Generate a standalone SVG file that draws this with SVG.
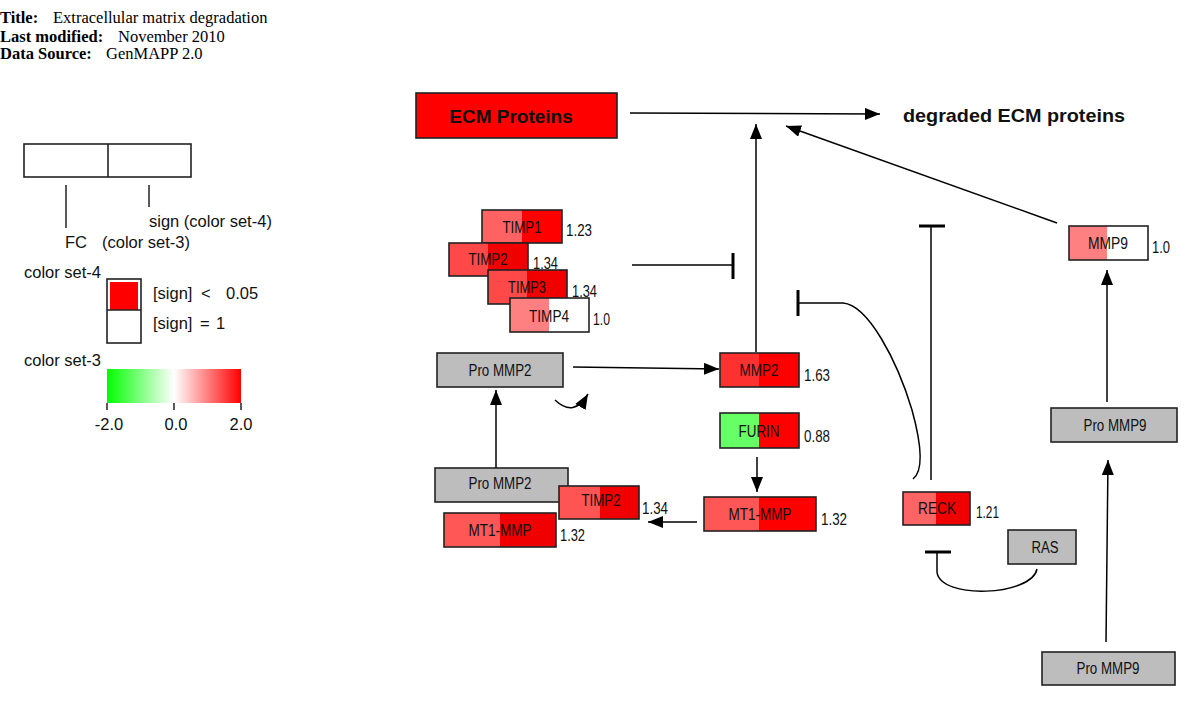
<svg xmlns="http://www.w3.org/2000/svg" width="1200" height="708" viewBox="0 0 1200 708">
<style>
.hdr{font-family:"Liberation Serif","Times New Roman",serif;font-size:16.5px;fill:#000}
.b{font-weight:bold}
.t{font-family:"Liberation Sans",Arial,sans-serif;font-size:16.5px;fill:#111}
.lg{font-family:"Liberation Sans",Arial,sans-serif;font-size:16.5px;fill:#111;text-anchor:middle}
.lbl{font-family:"Liberation Sans",Arial,sans-serif;font-size:16px;fill:#111;text-anchor:middle}
.num{font-family:"Liberation Sans",Arial,sans-serif;font-size:16px;fill:#111}
.big{font-family:"Liberation Sans",Arial,sans-serif;font-size:19px;font-weight:bold;fill:#111}
.box{stroke:#222;stroke-width:1.6;fill:none}
.grey{fill:#bdbdbd;stroke:#222;stroke-width:1.6}
.ln{stroke:#000;stroke-width:1.5;fill:none}
</style>
<defs>
<marker id="arr" markerUnits="userSpaceOnUse" markerWidth="16" markerHeight="13" refX="15" refY="6" orient="auto">
<path d="M0,0 L15,6 L0,12 z" fill="#000"/>
</marker>
<linearGradient id="grad" x1="0" y1="0" x2="1" y2="0">
<stop offset="0" stop-color="#00ff00"/>
<stop offset="0.5" stop-color="#ffffff"/>
<stop offset="1" stop-color="#ff0000"/>
</linearGradient>
</defs>
<rect width="1200" height="708" fill="#fff"/>

<g id="header">
<text class="hdr" x="0" y="23"><tspan class="b">Title:</tspan><tspan x="53">Extracellular matrix degradation</tspan></text>
<text class="hdr" x="0" y="42"><tspan class="b">Last modified:</tspan><tspan x="118">November 2010</tspan></text>
<text class="hdr" x="0" y="59"><tspan class="b">Data Source:</tspan><tspan x="106">GenMAPP 2.0</tspan></text>
</g>

<g id="legend">
<rect x="24" y="144" width="167" height="33" fill="#fff" stroke="#222" stroke-width="1.6"/>
<line x1="108" y1="144" x2="108" y2="177" stroke="#222" stroke-width="1.6"/>
<line x1="66" y1="185" x2="66" y2="228" stroke="#222" stroke-width="1.5"/>
<line x1="149" y1="185" x2="149" y2="207" stroke="#222" stroke-width="1.5"/>
<text class="t" x="149" y="227">sign (color set-4)</text>
<text class="t" x="65" y="248">FC</text>
<text class="t" x="102" y="248">(color set-3)</text>
<text class="t" x="24" y="278">color set-4</text>
<rect x="107" y="279" width="34" height="64" fill="#fff" stroke="#222" stroke-width="1.6"/>
<rect x="110" y="282" width="28" height="28" fill="#ff0000"/>
<line x1="107" y1="310" x2="141" y2="310" stroke="#222" stroke-width="1.6"/>
<text class="t" x="153" y="299">[sign]<tspan x="201">&lt;</tspan><tspan x="226">0.05</tspan></text>
<text class="t" x="153" y="329">[sign]<tspan x="200">=</tspan><tspan x="216">1</tspan></text>
<text class="t" x="24" y="366">color set-3</text>
<rect x="107" y="369" width="134" height="34" fill="url(#grad)"/>
<line x1="107" y1="403" x2="107" y2="410" stroke="#222" stroke-width="1.5"/>
<line x1="174" y1="403" x2="174" y2="410" stroke="#222" stroke-width="1.5"/>
<line x1="241" y1="403" x2="241" y2="410" stroke="#222" stroke-width="1.5"/>
<text class="lg" x="109" y="430">-2.0</text>
<text class="lg" x="176" y="430">0.0</text>
<text class="lg" x="241" y="430">2.0</text>
</g>

<g id="connectors">
<line class="ln" x1="630" y1="113" x2="880" y2="114" marker-end="url(#arr)"/>
<line class="ln" x1="756" y1="352" x2="756" y2="124" marker-end="url(#arr)"/>
<line class="ln" x1="1057" y1="223" x2="786" y2="126" marker-end="url(#arr)"/>
<line class="ln" x1="632" y1="265" x2="733" y2="265"/>
<line x1="733" y1="253" x2="733" y2="279" stroke="#000" stroke-width="3"/>
<line class="ln" x1="573" y1="367" x2="719" y2="369" marker-end="url(#arr)"/>
<path class="ln" d="M555 400 Q574 418 588 394" marker-end="url(#arr)"/>
<line class="ln" x1="496" y1="468" x2="496" y2="390" marker-end="url(#arr)"/>
<line class="ln" x1="757" y1="457" x2="757" y2="492" marker-end="url(#arr)"/>
<line class="ln" x1="697" y1="522" x2="648" y2="522" marker-end="url(#arr)"/>
<line class="ln" x1="931" y1="226" x2="931" y2="480"/>
<line x1="919" y1="226" x2="945" y2="226" stroke="#000" stroke-width="3"/>
<path class="ln" d="M798 303 L843 303 C868 305 897 360 912 410 C923 450 922 472 913 479"/>
<line x1="798" y1="290" x2="798" y2="316" stroke="#000" stroke-width="3"/>
<path class="ln" d="M1037 569 C1032 596 940 600 937 572 L937 552"/>
<line x1="925" y1="552" x2="951" y2="552" stroke="#000" stroke-width="3"/>
<line class="ln" x1="1107" y1="402" x2="1107" y2="270" marker-end="url(#arr)"/>
<line class="ln" x1="1106" y1="642" x2="1108" y2="460" marker-end="url(#arr)"/>
</g>

<g id="ecm-proteins">
<rect x="416" y="93" width="201" height="45" fill="#ff0000" stroke="#222" stroke-width="1.6"/>
<text class="big" x="511" y="123" text-anchor="middle">ECM Proteins</text>
</g>
<g id="degraded-ecm">
<text class="big" x="903" y="122" textLength="222" lengthAdjust="spacingAndGlyphs">degraded ECM proteins</text>
</g>

<g id="timp1">
<rect x="482" y="210" width="40" height="33" fill="#ff6262"/>
<rect x="522" y="210" width="40" height="33" fill="#ff0000"/>
<rect class="box" x="482" y="210" width="80" height="33"/>
<text class="lbl" x="522" y="233" textLength="39" lengthAdjust="spacingAndGlyphs">TIMP1</text>
<text class="num" x="566" y="236" textLength="26" lengthAdjust="spacingAndGlyphs">1.23</text>
</g>
<g id="timp2">
<rect x="449" y="243" width="39" height="33" fill="#ff4848"/>
<rect x="488" y="243" width="40" height="33" fill="#f00000"/>
<rect class="box" x="449" y="243" width="79" height="33"/>
<text class="lbl" x="488" y="265" textLength="39" lengthAdjust="spacingAndGlyphs">TIMP2</text>
<text class="num" x="533" y="269" textLength="25" lengthAdjust="spacingAndGlyphs">1.34</text>
</g>
<g id="timp3">
<rect x="488" y="270" width="39" height="34" fill="#ff4848"/>
<rect x="527" y="270" width="40" height="34" fill="#f00000"/>
<rect class="box" x="488" y="270" width="79" height="34"/>
<text class="lbl" x="527" y="293" textLength="38" lengthAdjust="spacingAndGlyphs">TIMP3</text>
<text class="num" x="572" y="297" textLength="25" lengthAdjust="spacingAndGlyphs">1.34</text>
</g>
<g id="timp4">
<rect x="510" y="298" width="39" height="34" fill="#ff8080"/>
<rect x="549" y="298" width="40" height="34" fill="#ffffff"/>
<rect class="box" x="510" y="298" width="79" height="34"/>
<text class="lbl" x="549" y="322" textLength="40" lengthAdjust="spacingAndGlyphs">TIMP4</text>
<text class="num" x="593" y="325" textLength="17" lengthAdjust="spacingAndGlyphs">1.0</text>
</g>

<g id="pro-mmp2-top">
<rect class="grey" x="437" y="353" width="126" height="34"/>
<text class="lbl" x="500" y="376" textLength="63" lengthAdjust="spacingAndGlyphs">Pro MMP2</text>
</g>
<g id="mmp2">
<rect x="720" y="353" width="39" height="34" fill="#ff3030"/>
<rect x="759" y="353" width="40" height="34" fill="#ff0000"/>
<rect class="box" x="720" y="353" width="79" height="34"/>
<text class="lbl" x="759" y="376" textLength="39" lengthAdjust="spacingAndGlyphs">MMP2</text>
<text class="num" x="804" y="381" textLength="26" lengthAdjust="spacingAndGlyphs">1.63</text>
</g>
<g id="furin">
<rect x="720" y="413" width="39" height="35" fill="#66ff66"/>
<rect x="759" y="413" width="40" height="35" fill="#ff0000"/>
<rect class="box" x="720" y="413" width="79" height="35"/>
<text class="lbl" x="759" y="437" textLength="41" lengthAdjust="spacingAndGlyphs">FURIN</text>
<text class="num" x="804" y="442" textLength="26" lengthAdjust="spacingAndGlyphs">0.88</text>
</g>
<g id="mt1-mmp-right">
<rect x="704" y="497" width="55" height="34" fill="#ff5656"/>
<rect x="759" y="497" width="57" height="34" fill="#ff0000"/>
<rect class="box" x="704" y="497" width="112" height="34"/>
<text class="lbl" x="760" y="520" textLength="63" lengthAdjust="spacingAndGlyphs">MT1-MMP</text>
<text class="num" x="821" y="525" textLength="26" lengthAdjust="spacingAndGlyphs">1.32</text>
</g>
<g id="pro-mmp2-bottom">
<rect class="grey" x="435" y="468" width="133" height="34"/>
<text class="lbl" x="500" y="489" textLength="63" lengthAdjust="spacingAndGlyphs">Pro MMP2</text>
</g>
<g id="timp2-bottom">
<rect x="559" y="486" width="41" height="33" fill="#ff5454"/>
<rect x="600" y="486" width="39" height="33" fill="#f00000"/>
<rect class="box" x="559" y="486" width="80" height="33"/>
<text class="lbl" x="601" y="506" textLength="39" lengthAdjust="spacingAndGlyphs">TIMP2</text>
<text class="num" x="642" y="514" textLength="26" lengthAdjust="spacingAndGlyphs">1.34</text>
</g>
<g id="mt1-mmp-left">
<rect x="444" y="513" width="56" height="34" fill="#ff5656"/>
<rect x="500" y="513" width="56" height="34" fill="#f00000"/>
<rect class="box" x="444" y="513" width="112" height="34"/>
<text class="lbl" x="500" y="536" textLength="63" lengthAdjust="spacingAndGlyphs">MT1-MMP</text>
<text class="num" x="560" y="541" textLength="25" lengthAdjust="spacingAndGlyphs">1.32</text>
</g>

<g id="mmp9">
<rect x="1069" y="226" width="38" height="34" fill="#ff8080"/>
<rect x="1107" y="226" width="41" height="34" fill="#ffffff"/>
<rect class="box" x="1069" y="226" width="79" height="34"/>
<text class="lbl" x="1108" y="249" textLength="40" lengthAdjust="spacingAndGlyphs">MMP9</text>
<text class="num" x="1152" y="253" textLength="18" lengthAdjust="spacingAndGlyphs">1.0</text>
</g>
<g id="pro-mmp9-upper">
<rect class="grey" x="1051" y="408" width="126" height="34"/>
<text class="lbl" x="1115" y="431" textLength="63" lengthAdjust="spacingAndGlyphs">Pro MMP9</text>
</g>
<g id="reck">
<rect x="903" y="492" width="33" height="33" fill="#ff6464"/>
<rect x="936" y="492" width="34" height="33" fill="#f00000"/>
<rect class="box" x="903" y="492" width="67" height="33"/>
<text class="lbl" x="937" y="514" textLength="38" lengthAdjust="spacingAndGlyphs">RECK</text>
<text class="num" x="976" y="518" textLength="23" lengthAdjust="spacingAndGlyphs">1.21</text>
</g>
<g id="ras">
<rect class="grey" x="1008" y="530" width="68" height="34"/>
<text class="lbl" x="1045" y="553" textLength="27" lengthAdjust="spacingAndGlyphs">RAS</text>
</g>
<g id="pro-mmp9-lower">
<rect class="grey" x="1042" y="652" width="133" height="33"/>
<text class="lbl" x="1108" y="674" textLength="63" lengthAdjust="spacingAndGlyphs">Pro MMP9</text>
</g>
</svg>
